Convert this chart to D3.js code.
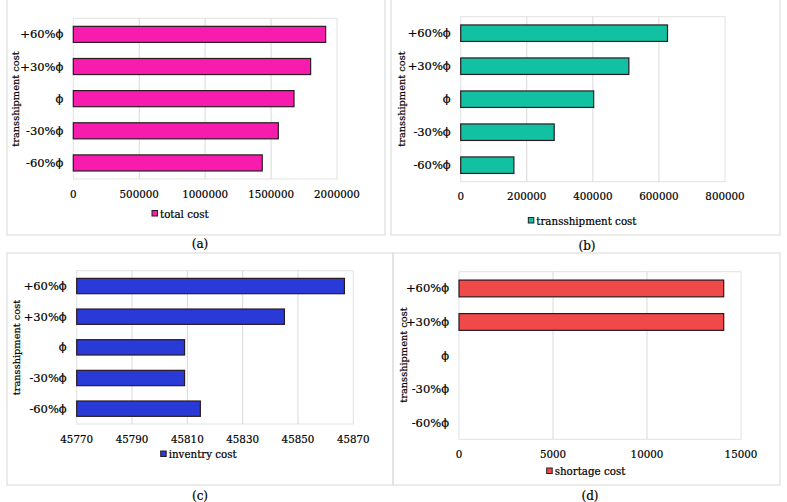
<!DOCTYPE html>
<html>
<head>
<meta charset="utf-8">
<script src="https://cdn.jsdelivr.net/npm/d3@7"></script>
<style>
  html, body { margin: 0; padding: 0; background: #fff; }
  svg { display: block; }
  text { font-family: "DejaVu Serif", "Liberation Serif", serif; fill: #000; stroke: #000; stroke-width: 0.2px; }
</style>
</head>
<body>
<svg id="chart" width="787" height="502"></svg>
<script>
// ---- data ----
const categories = ["+60%\u03D5", "+30%\u03D5", "\u03D5", "-30%\u03D5", "-60%\u03D5"];
const totalCost = [1914000, 1800000, 1674000, 1555000, 1433000];
const transshipmentCost = [626000, 509000, 402500, 283000, 161000];
const inventryCost = [45866.8, 45845.1, 45809.0, 45809.0, 45814.7];
const shortageCost = [14080, 14080, 0, 0, 0];

const ticksA = [0, 500000, 1000000, 1500000, 2000000];
const ticksB = [0, 200000, 400000, 600000, 800000];
const ticksC = [45770, 45790, 45810, 45830, 45850, 45870];
const ticksD = [0, 5000, 10000, 15000];

const seriesNames = ["total cost", "transshipment cost", "inventry cost", "shortage cost"];
const panelLabels = ["(a)", "(b)", "(c)", "(d)"];
const axisTitle = "transshipment cost";

// ---- layout ----
const svg = d3.select("#chart");

const panels = [
  { values: totalCost, ticks: ticksA, name: seriesNames[0], label: panelLabels[0], color: "#f71cae",
    box: [7, -2, 385, 235], plot: { l: 73.3, r: 337, t: 18.3, b: 179 }, tickY: 197.5,
    legend: { x: 152, y: 210.5, ty: 217.5 }, titleX: 18.5, titleY: 99, labelX: 200, labelY: 247.5 },
  { values: transshipmentCost, ticks: ticksB, name: seriesNames[1], label: panelLabels[1], color: "#12c0a2",
    box: [391, -2, 780, 235], plot: { l: 460.7, r: 725, t: 16.7, b: 181.7 }, tickY: 200,
    legend: { x: 528.3, y: 217.5, ty: 224.5 }, titleX: 404.5, titleY: 99, labelX: 587, labelY: 249.5 },
  { values: inventryCost, ticks: ticksC, name: seriesNames[2], label: panelLabels[2], color: "#2a3ad6",
    box: [7, 253, 393, 485], plot: { l: 76.7, r: 353.3, t: 270.7, b: 424 }, tickY: 443,
    legend: { x: 160.7, y: 451, ty: 458 }, titleX: 20, titleY: 347.5, labelX: 200, labelY: 499.5 },
  { values: shortageCost, ticks: ticksD, name: seriesNames[3], label: panelLabels[3], color: "#f04949",
    box: [393, 253, 780, 485], plot: { l: 459, r: 741, t: 271.7, b: 439.3 }, tickY: 458,
    legend: { x: 546.7, y: 468, ty: 475 }, titleX: 406.5, titleY: 355, labelX: 590, labelY: 499.5 }
];

panels.forEach(p => {
  const g = svg.append("g");
  // panel frame
  g.append("rect")
    .attr("x", p.box[0]).attr("y", p.box[1])
    .attr("width", p.box[2] - p.box[0]).attr("height", p.box[3] - p.box[1])
    .attr("fill", "none").attr("stroke", "#dedede").attr("stroke-width", 1.2);

  const x = d3.scaleLinear()
    .domain([p.ticks[0], p.ticks[p.ticks.length - 1]])
    .range([p.plot.l, p.plot.r]);
  const y = d3.scaleBand()
    .domain(categories)
    .range([p.plot.t, p.plot.b])
    .paddingInner(0.5).paddingOuter(0.25);

  // plot-area border
  g.append("rect")
    .attr("x", p.plot.l).attr("y", p.plot.t)
    .attr("width", p.plot.r - p.plot.l).attr("height", p.plot.b - p.plot.t)
    .attr("fill", "none").attr("stroke", "#e2e2e2").attr("stroke-width", 1);

  // gridlines
  g.append("g").selectAll("line")
    .data(p.ticks.slice(1, -1))
    .join("line")
    .attr("x1", d => x(d)).attr("x2", d => x(d))
    .attr("y1", p.plot.t).attr("y2", p.plot.b)
    .attr("stroke", "#d9d9d9").attr("stroke-width", 1);

  // x tick labels
  g.append("g").selectAll("text")
    .data(p.ticks)
    .join("text")
    .attr("x", d => x(d)).attr("y", p.tickY)
    .attr("text-anchor", "middle")
    .attr("font-size", "10.3px")
    .text(d => d3.format("d")(d));

  // category labels
  g.append("g").selectAll("text")
    .data(categories)
    .join("text")
    .attr("x", p.plot.l - 10)
    .attr("y", d => y(d) + y.bandwidth() / 2)
    .attr("dy", "0.35em")
    .attr("text-anchor", "end")
    .attr("font-size", "11.5px")
    .text(d => d);

  // bars
  const data = categories.map((c, i) => ({ c, v: p.values[i] })).filter(d => d.v > p.ticks[0]);
  g.append("g").selectAll("rect")
    .data(data)
    .join("rect")
    .attr("x", x(p.ticks[0]))
    .attr("y", d => y(d.c))
    .attr("width", d => x(d.v) - x(p.ticks[0]))
    .attr("height", y.bandwidth())
    .attr("fill", p.color)
    .attr("stroke", "#2a1a22").attr("stroke-width", 1.2);

  // axis title
  g.append("text")
    .attr("transform", `translate(${p.titleX},${p.titleY}) rotate(-90)`)
    .attr("text-anchor", "middle")
    .attr("font-size", "9.8px")
    .text(axisTitle);

  // legend
  g.append("rect")
    .attr("x", p.legend.x).attr("y", p.legend.y)
    .attr("width", 5.5).attr("height", 5.5)
    .attr("fill", p.color).attr("stroke", "#2a1a22").attr("stroke-width", 1);
  g.append("text")
    .attr("x", p.legend.x + 8).attr("y", p.legend.ty)
    .attr("font-size", "10.3px")
    .text(p.name);

  // panel label
  g.append("text")
    .attr("x", p.labelX).attr("y", p.labelY)
    .attr("text-anchor", "middle")
    .attr("font-size", "12px")
    .text(p.label);
});
</script>
</body>
</html>
